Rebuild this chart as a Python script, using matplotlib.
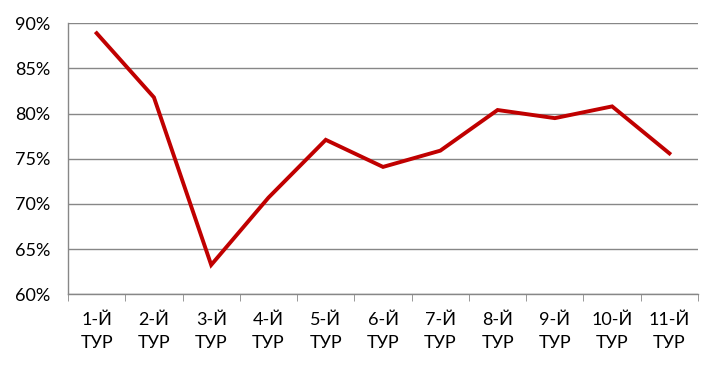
import matplotlib.pyplot as plt
from matplotlib.ticker import FuncFormatter, FixedLocator
import numpy as np

plt.rcParams['font.family'] = ['Lato', 'DejaVu Sans']

# data
rounds = ["1-Й", "2-Й", "3-Й", "4-Й", "5-Й", "6-Й", "7-Й", "8-Й", "9-Й", "10-Й", "11-Й"]
share = [88.9, 81.8, 63.25, 70.7, 77.1, 74.1, 75.9, 80.4, 79.5, 80.8, 75.6]
yticks = [60, 65, 70, 75, 80, 85, 90]

fig = plt.figure(figsize=(7.22, 3.72), dpi=100)
ax = fig.add_axes([0.0942, 0.2089, 0.8726, 0.7285])

x = np.arange(len(rounds))
ax.plot(x, share, color="#C00000", lw=2.8, solid_joinstyle="miter", zorder=3)

ax.set_xlim(-0.5, len(rounds) - 0.5)
ax.set_ylim(60, 90)
ax.set_yticks(yticks)
ax.yaxis.set_major_formatter(FuncFormatter(lambda v, p: "%d%%" % v))
ax.grid(axis="y", color="#878787", lw=1)
ax.set_axisbelow(True)

ax.set_xticks(x)
ax.set_xticklabels([r + "\nТУР" for r in rounds], linespacing=1.55)
ax.xaxis.set_minor_locator(FixedLocator(np.arange(-0.5, len(rounds), 1)))
ax.tick_params(axis="x", which="major", length=0, pad=13, labelsize=13)
ax.tick_params(axis="x", which="minor", length=5, color="#878787")
ax.tick_params(axis="y", length=0, pad=13, labelsize=13)

for s in ["top", "right"]:
    ax.spines[s].set_visible(False)
for s in ["left", "bottom"]:
    ax.spines[s].set_color("#878787")
    ax.spines[s].set_linewidth(1)

fig.savefig("out.png", dpi=100)
